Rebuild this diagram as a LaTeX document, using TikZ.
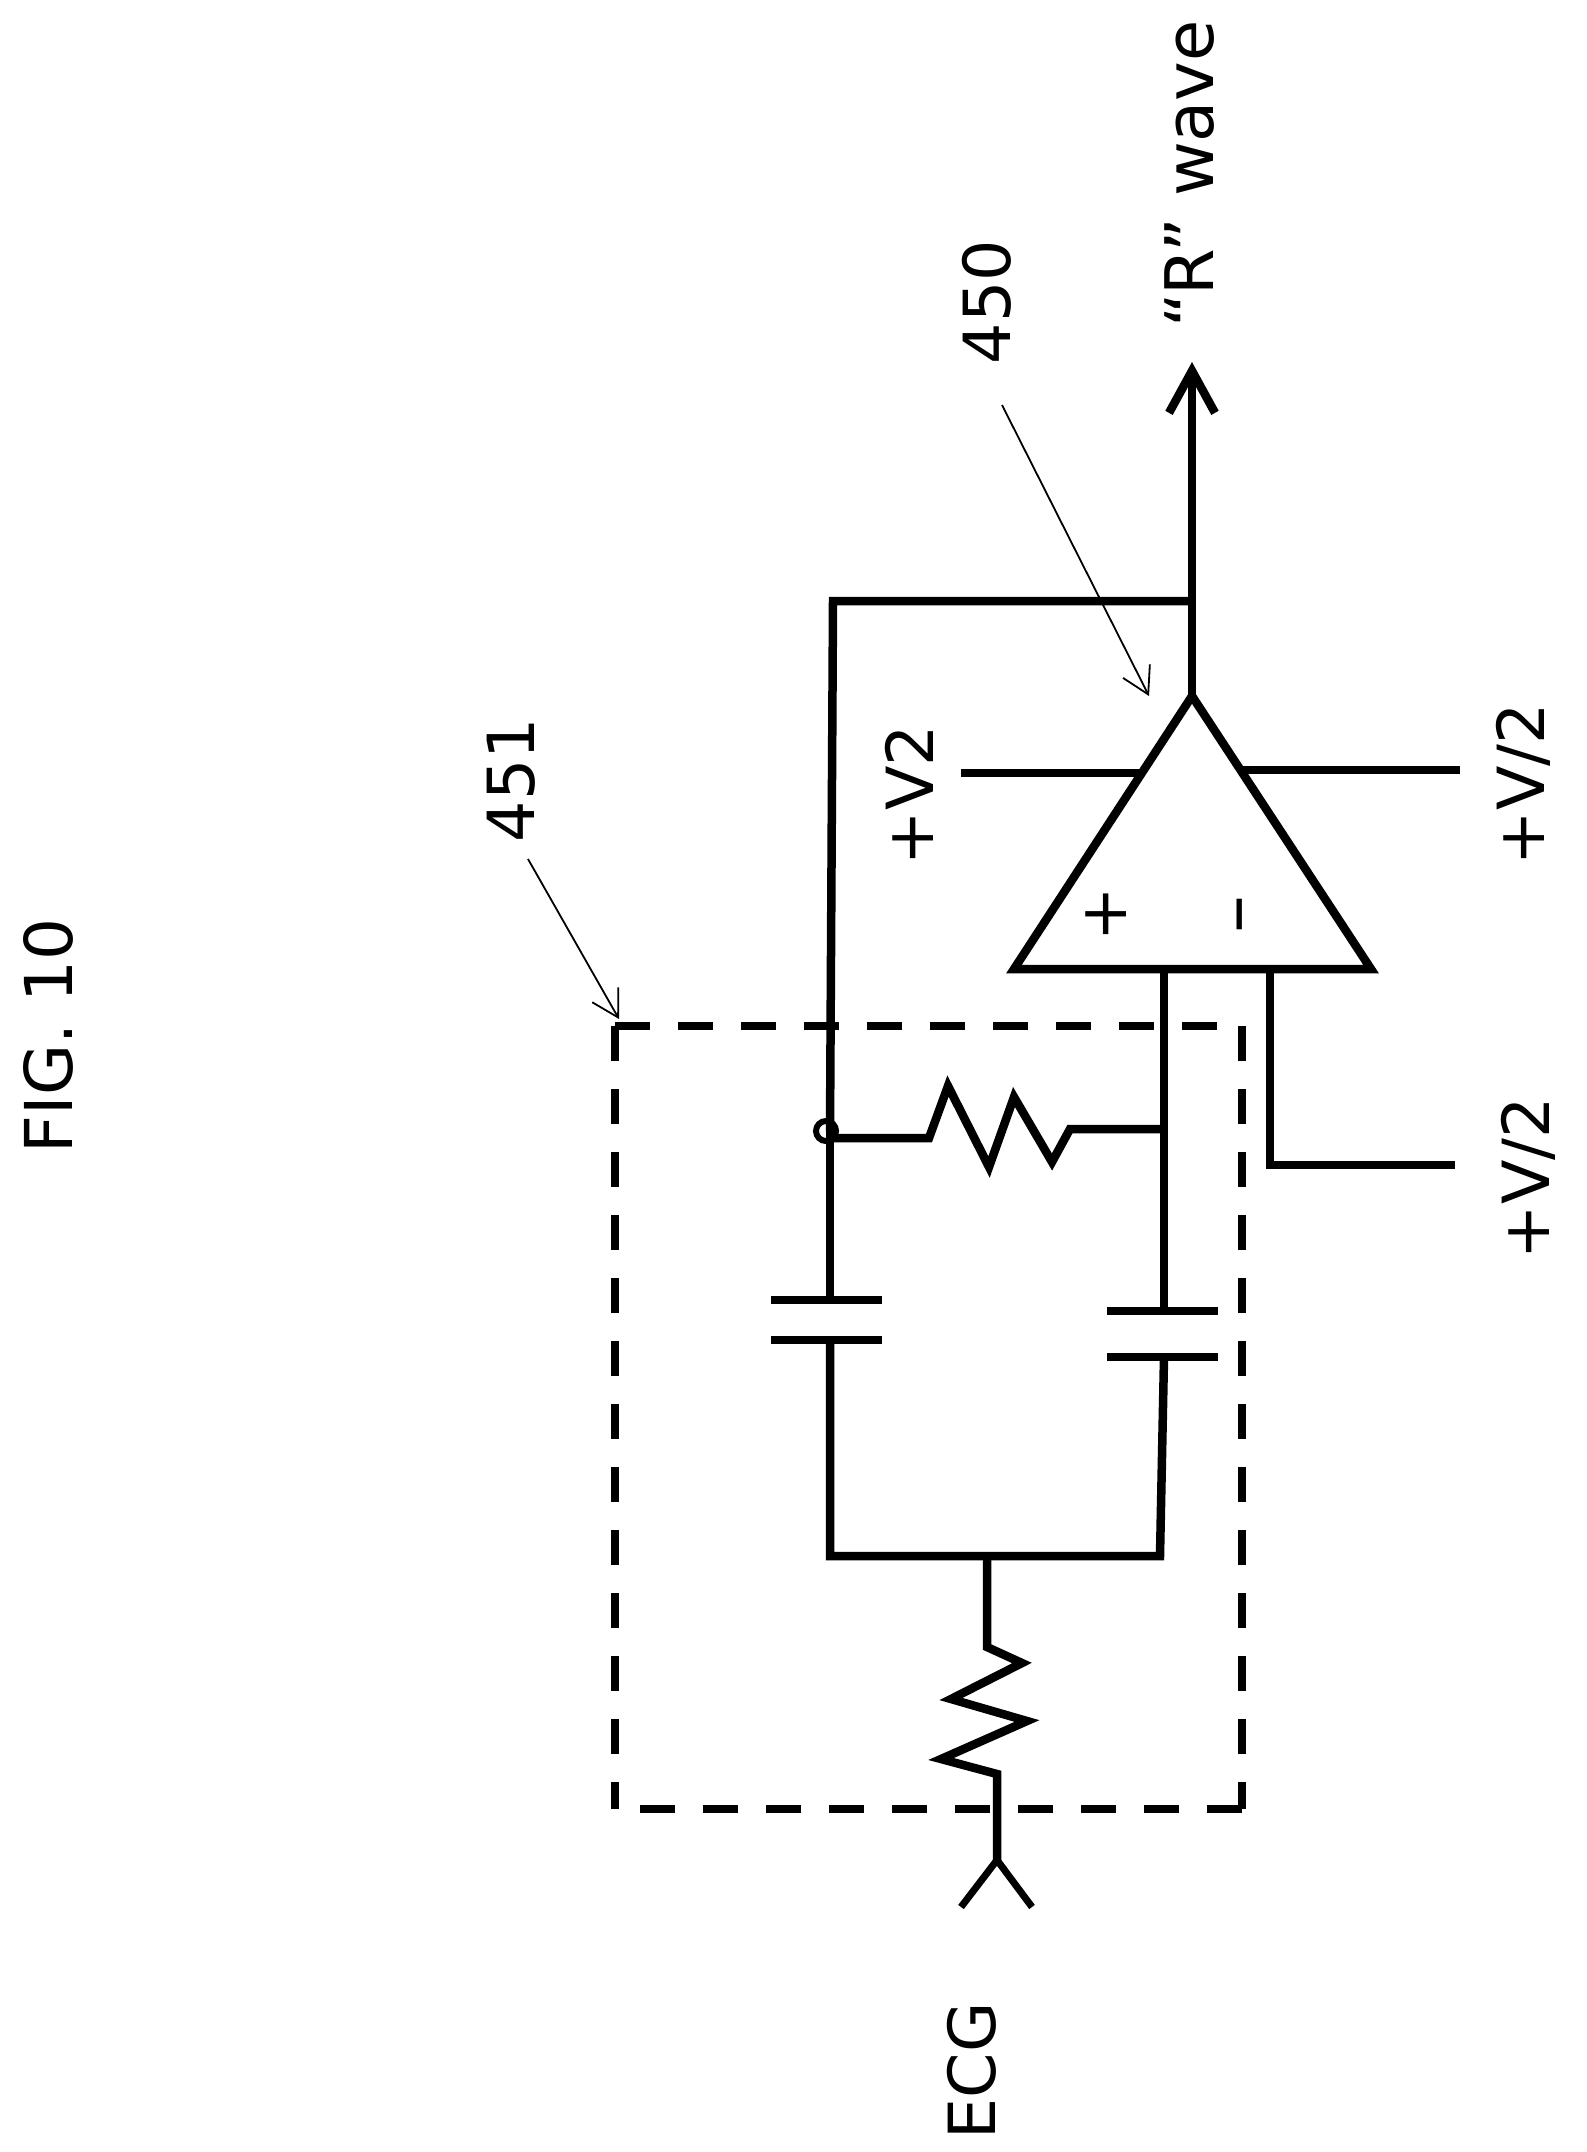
\documentclass[tikz,border=0pt]{standalone}
\usepackage{fontspec}
\setmainfont{DejaVu Sans}
\usetikzlibrary{arrows.meta}
\tikzset{
  wire/.style={line width=8.5pt, line join=miter},
  dashbox/.style={line width=7.5pt, dash pattern=on 35pt off 28pt},
  leader/.style={line width=1.8pt, -{Straight Barb[length=26pt,width=30pt,line width=1.8pt]}},
  lbl/.style={font=\fontsize{65}{65}\selectfont, inner sep=0pt, rotate=90},
}
\begin{document}
\begin{tikzpicture}[x=1pt,y=-1pt]
  \useasboundingbox (0,0) rectangle (1587,2152);

  % Amplifier
  \coordinate (apex) at (1192,696);
  \coordinate (baseL) at (1014,969);
  \coordinate (baseR) at (1371,969);
  \draw[wire] (apex) -- (baseL) -- (baseR) -- cycle;
  \node[lbl] (plus) at (1106,914) {+};
  \node[lbl, font=\fontsize{76}{76}\selectfont] (minus) at (1249,914) {–};

  % Output and feedback
  \coordinate (outTip) at (1192,362);
  \coordinate (fbTop) at (1192,601);
  \coordinate (fbL) at (833,601);
  \coordinate (dot) at (830,1131);
  \draw[wire, -{Straight Barb[length=42pt,width=46pt,line width=8.5pt]}] (apex) -- (outTip);
  \draw[wire] (fbTop) -- (fbL) -- (dot);
  \node[draw, circle, line width=6pt, minimum size=20pt, inner sep=0pt] (node) at (826,1131) {};

  % Supply pins
  \coordinate (vtwoA) at (1144,773);
  \coordinate (vtwoB) at (961,773);
  \coordinate (vhA) at (1243,770);
  \coordinate (vhB) at (1460,770);
  \coordinate (nA) at (1270,969);
  \coordinate (nB) at (1270,1165);
  \coordinate (nC) at (1455,1165);
  \draw[wire] (vtwoA) -- (vtwoB);
  \draw[wire] (vhA) -- (vhB);
  \draw[wire] (nA) -- (nB) -- (nC);

  % Feedback resistor
  \coordinate (pIn) at (1164,969);
  \coordinate (pJ) at (1164,1129);
  \draw[wire] (830,1138) -- (929,1138) -- (948,1086) -- (989,1167) -- (1014,1097)
    -- (1052,1162) -- (1070,1129) -- (pJ);
  \draw[wire] (pIn) -- (pJ);

  % Capacitors
  \coordinate (capLa) at (830,1300);
  \coordinate (capLb) at (830,1340);
  \coordinate (capRa) at (1164,1311);
  \coordinate (capRb) at (1164,1357);
  \coordinate (botL) at (830,1556);
  \coordinate (botR) at (1160,1556);
  \draw[wire] (dot) -- (capLa);
  \draw[wire] (pJ) -- (capRa);
  \draw[wire] (771,1300) -- (882,1300);
  \draw[wire] (771,1340) -- (882,1340);
  \draw[wire] (1107,1311) -- (1218,1311);
  \draw[wire] (1107,1357) -- (1218,1357);
  \draw[wire] (capLb) -- (botL) -- (botR) -- (capRb);

  % Input resistor and connector
  \coordinate (inTop) at (987,1556);
  \coordinate (inFork) at (997,1860);
  \draw[wire] (inTop) -- (987,1647) -- (1022,1663) -- (951,1699) -- (1027,1721)
    -- (941,1759) -- (997,1774) -- (inFork);
  \draw[line width=7pt] (961,1907) -- (inFork) -- (1032,1907);

  % Dashed box
  \coordinate (boxA) at (615,1809);
  \coordinate (boxB) at (615,1026);
  \coordinate (boxC) at (1242,1026);
  \coordinate (boxD) at (1242,1809);
  \foreach \from/\to in {boxB/boxA, boxB/boxC, boxC/boxD, boxD/boxA}
    \draw[dashbox] (\from) -- (\to);

  % Leaders
  \node[lbl] (lbl450) at (987,302) {450};
  \node[lbl] (lbl451) at (511,780) {451};
  \coordinate (tip450) at (1149,696);
  \coordinate (tip451) at (619,1019);
  \draw[leader] (1002,405) -- (tip450);
  \draw[leader] (528,859) -- (tip451);

  % Labels
  \node[lbl, font=\fontsize{67}{67}\selectfont] (wave) at (1190,174) {“R” wave};
  \node[lbl] (v2) at (909,795) {+V2};
  \node[lbl] (vhalfA) at (1523,784) {+V/2};
  \node[lbl] (vhalfB) at (1528,1178) {+V/2};
  \node[lbl] (ecg) at (972,2071) {ECG};
  \node[lbl, font=\fontsize{66}{66}\selectfont] (fig) at (48,1036) {FIG. 10};
\end{tikzpicture}
\end{document}
